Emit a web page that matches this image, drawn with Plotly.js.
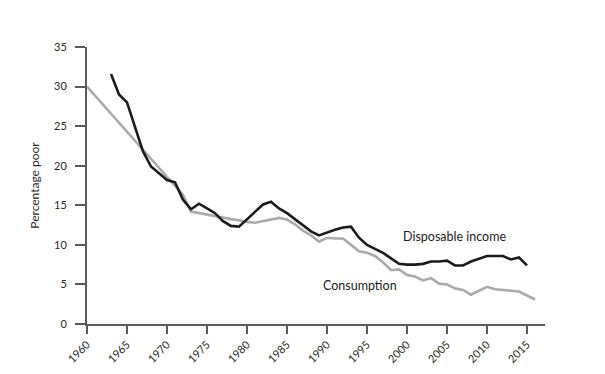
<!DOCTYPE html>
<html>
<head>
<meta charset="utf-8">
<script src="https://cdn.plot.ly/plotly-3.0.1.min.js"></script>
<style>html,body{margin:0;padding:0;background:#fff;}#chart{width:605px;height:374px;}</style>
</head>
<body>
<div id="chart"></div>
<script>
const incomeYears = [1963,1964,1965,1966,1967,1968,1969,1970,1971,1972,1973,1974,1975,1976,1977,1978,1979,1980,1981,1982,1983,1984,1985,1986,1987,1988,1989,1990,1991,1992,1993,1994,1995,1996,1997,1998,1999,2000,2001,2002,2003,2004,2005,2006,2007,2008,2009,2010,2011,2012,2013,2014,2015];
const incomeValues = [31.6,29.0,28.0,25.0,21.8,19.9,19.0,18.2,17.9,15.7,14.5,15.2,14.6,14.0,13.0,12.4,12.3,13.2,14.2,15.1,15.45,14.6,14.0,13.2,12.4,11.7,11.2,11.6,11.9,12.2,12.3,10.9,10.0,9.5,9.0,8.3,7.6,7.5,7.5,7.6,7.9,7.9,8.0,7.4,7.4,7.9,8.2,8.6,8.6,8.6,8.15,8.4,7.4];
const consumptionYears = [1960,1972,1973,1974,1975,1976,1977,1978,1979,1980,1981,1982,1983,1984,1985,1986,1987,1988,1989,1990,1991,1992,1993,1994,1995,1996,1997,1998,1999,2000,2001,2002,2003,2004,2005,2006,2007,2008,2009,2010,2011,2012,2013,2014,2015,2016];
const consumptionValues = [30.0,16.3,14.2,14.0,13.8,13.6,13.4,13.25,13.1,12.9,12.8,13.0,13.2,13.4,13.2,12.6,11.8,11.2,10.4,10.9,10.8,10.8,10.0,9.2,9.0,8.6,7.8,6.8,6.9,6.2,6.0,5.5,5.8,5.1,5.0,4.5,4.3,3.7,4.2,4.7,4.4,4.3,4.25,4.1,3.6,3.1];
const xTicks = [1960,1965,1970,1975,1980,1985,1990,1995,2000,2005,2010,2015];
const yTicks = [0,5,10,15,20,25,30,35];
const seriesNames = ['Disposable income','Consumption'];

const FONT = 'Lato, "Open Sans", sans-serif';

const traces = [
  {x: consumptionYears, y: consumptionValues, type: 'scatter', mode: 'lines', name: seriesNames[1],
   line: {color: '#ababab', width: 2.6}, hoverinfo: 'x+y'},
  {x: incomeYears, y: incomeValues, type: 'scatter', mode: 'lines', name: seriesNames[0],
   line: {color: '#1c1c1c', width: 2.6}, hoverinfo: 'x+y'}
];

const layout = {
  width: 605, height: 374,
  margin: {l: 87, r: 60, t: 47, b: 50},
  paper_bgcolor: '#ffffff', plot_bgcolor: '#ffffff',
  showlegend: false,
  font: {family: FONT, color: '#2a2a2a', size: 12},
  xaxis: {
    range: [1960, 2017.25], tickvals: xTicks, ticktext: xTicks.map(String),
    tickangle: -45, ticks: 'outside', ticklen: 8, tickwidth: 2, tickcolor: '#5a5a5a',
    showline: true, linecolor: '#5a5a5a', linewidth: 2, showgrid: false, zeroline: false,
    tickfont: {family: FONT, size: 11, color: '#2a2a2a'}
  },
  yaxis: {
    range: [0, 35], tickvals: yTicks, ticktext: yTicks.map(String),
    ticks: 'outside', ticklen: 10, tickwidth: 2, tickcolor: '#5a5a5a',
    showline: true, linecolor: '#5a5a5a', linewidth: 2, showgrid: false, zeroline: false,
    ticklabelstandoff: 6,
    tickfont: {family: FONT, size: 11, color: '#2a2a2a'},
    title: {text: 'Percentage poor', font: {family: FONT, size: 12, color: '#2a2a2a'}, standoff: 12}
  },
  annotations: [
    {x: 2005.9, y: 11.0, xref: 'x', yref: 'y', text: seriesNames[0], showarrow: false,
     font: {family: FONT, size: 12.5, color: '#1c1c1c'}},
    {x: 1994.1, y: 4.9, xref: 'x', yref: 'y', text: seriesNames[1], showarrow: false,
     font: {family: FONT, size: 12.5, color: '#1c1c1c'}}
  ]
};

Plotly.newPlot('chart', traces, layout, {displayModeBar: false, staticPlot: true});
</script>
</body>
</html>
